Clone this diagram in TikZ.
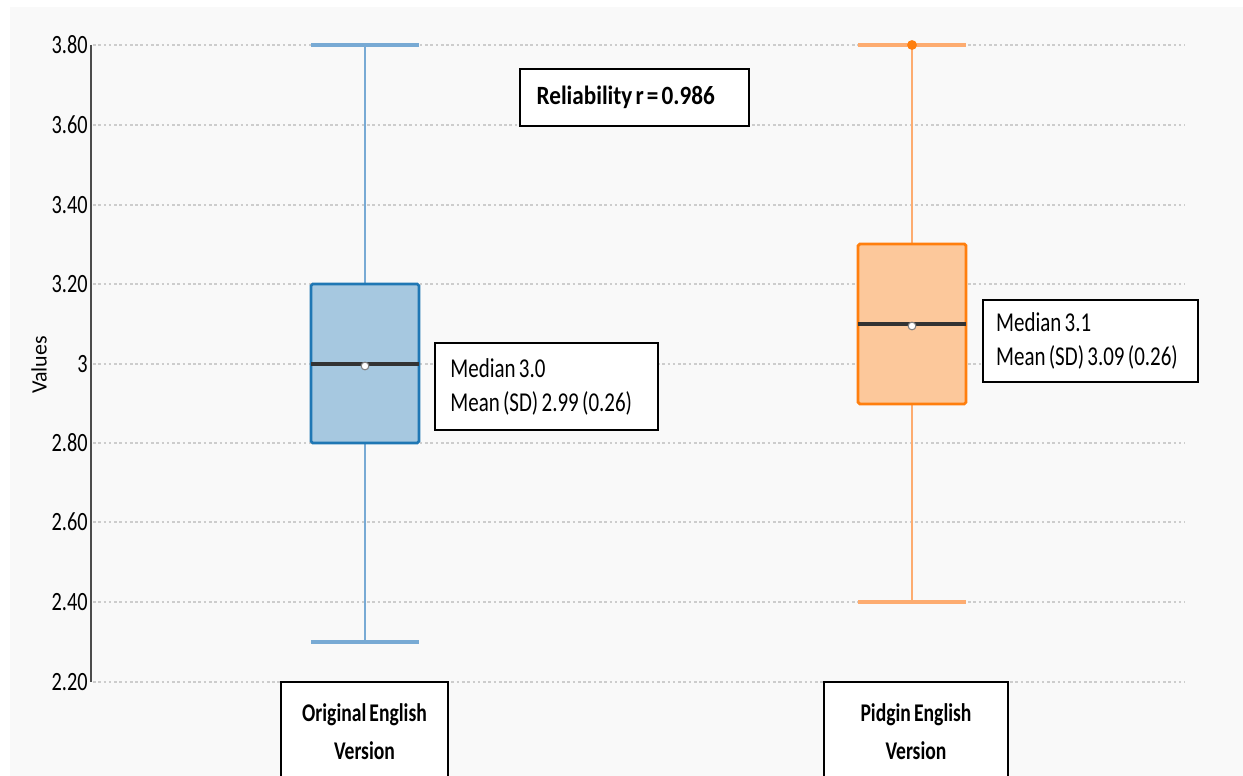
\documentclass[tikz,border=0pt]{standalone}
\usepackage{fontspec}
\setmainfont{Carlito}[FakeStretch=0.77,WordSpace=0.7]
\newfontfamily\relfont{Carlito}[FakeStretch=0.88,WordSpace=0.6]
\newfontfamily\axisfont{Carlito}
\usetikzlibrary{positioning}
\definecolor{boxblue}{RGB}{31,119,180}
\definecolor{fillblue}{RGB}{166,200,224}
\definecolor{wiskblue}{RGB}{120,170,212}
\definecolor{boxorange}{RGB}{255,127,14}
\definecolor{fillorange}{RGB}{252,200,155}
\definecolor{wiskorange}{RGB}{253,172,112}
\definecolor{panelgray}{RGB}{249,249,249}
\definecolor{gridgray}{RGB}{205,205,205}

\begin{document}
\begin{tikzpicture}[x=0.02cm,y=-0.02cm,
    every node/.style={font=\fontsize{15.5}{19.3}\selectfont},
    note/.style={draw=black,line width=1.2pt,fill=white,inner ysep=0pt,align=left},
    catlabel/.style={draw=black,line width=1.2pt,fill=white,align=center,
      minimum height=2cm,font=\fontsize{14.5}{21.5}\selectfont\bfseries}]
  \useasboundingbox (0,0) rectangle (1243,776);
  \fill[panelgray](10,7) rectangle (1243,776);
  % grid and ticks
  \foreach \yy/\lbl [count=\i] in {45/3.80,125/3.60,205/3.40,284/3.20,364/3,
      443/2.80,522/2.60,602/2.40,682/2.20}{
    \draw[gridgray,line width=0.9pt,dash pattern=on 1.5pt off 1.5pt](93,\yy)--(1185,\yy);
    \node[anchor=east,inner sep=0pt,font=\fontsize{15}{18}\selectfont] (tick\i) at (88,\yy){\lbl};
  }
  \draw[line width=1.2pt,black!70](91,45)--(91,682);
  \node[rotate=90,font=\fontsize{12.5}{15}\axisfont] (ylab) at (39,365){Values};
  % box plots
  \foreach \xc/\hi/\qc/\md/\qa/\lo/\bcol/\fcol/\wcol in {
      365/45/284/364/443/642/boxblue/fillblue/wiskblue,
      912/45/244/324/404/602/boxorange/fillorange/wiskorange}{
    \draw[\wcol,line width=1.1pt](\xc,\hi)--(\xc,\qc) (\xc,\qa)--(\xc,\lo);
    \draw[\wcol,line width=1.8pt](\xc-54,\hi)--(\xc+54,\hi) (\xc-54,\lo)--(\xc+54,\lo);
    \draw[\bcol,fill=\fcol,line width=1.6pt,rounded corners=1pt](\xc-54,\qc) rectangle (\xc+54,\qa);
    \draw[black!80,line width=2.2pt](\xc-54,\md)--(\xc+54,\md);
    \draw[gray,fill=white,line width=0.6pt](\xc,\md+2) circle (2.2pt);
  }
  \fill[boxorange](912,45) circle (2.8pt);
  % notes
  \node[note,align=center,minimum width=4.58cm,minimum height=1.14cm,
    font=\fontsize{15}{19}\relfont\bfseries] (rel) at (634.5,97.5){Reliability r = 0.986\hspace*{10pt}};
  \node[note,minimum width=4.46cm,minimum height=1.74cm]
    (origstats) at (546.5,386.5){Median 3.0\\Mean (SD) 2.99 (0.26)\hspace*{6pt}};
  \node[note,minimum width=4.3cm,minimum height=1.64cm]
    (pidgstats) at (1090.5,341){Median 3.1\\Mean (SD) 3.09 (0.26)\hspace*{4pt}};
  % category labels
  \node[catlabel,minimum width=3.34cm] (origlab) at (364.5,732){Original English\\Version};
  \node[catlabel,minimum width=3.68cm] (pidglab) at (916,732){Pidgin English\\Version};
\end{tikzpicture}
\end{document}
